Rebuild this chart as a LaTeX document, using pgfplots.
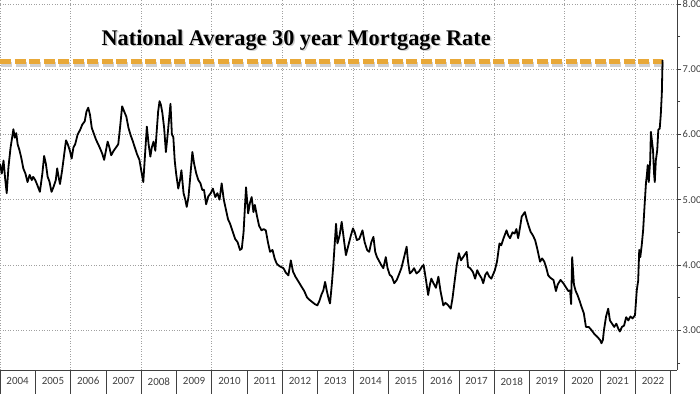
\documentclass[border=0pt]{standalone}
\usepackage{pgfplots}
\pgfplotsset{compat=1.18}
\usepackage{fontspec}
\setmainfont{Carlito}
\newfontfamily\titlefont{Liberation Serif}
\definecolor{dashorange}{HTML}{E8A838}
\definecolor{gridgray}{HTML}{A0A0A0}
\definecolor{axgray}{HTML}{404040}
\begin{document}
\begin{tikzpicture}
\begin{axis}[
  scale only axis, width=677pt, height=370pt,
  xmin=2004, xmax=2023.18, ymin=2.39, ymax=8.06,
  axis x line*=bottom, axis y line*=right,
  axis line style={axgray, line width=0.8pt},
  clip=false,
  tick align=outside,
  major tick length=4pt, minor tick length=3pt,
  xtick={2004.5,2005.5,2006.5,2007.5,2008.5,2009.5,2010.5,2011.5,2012.5,2013.5,2014.5,2015.5,2016.5,2017.5,2018.5,2019.5,2020.5,2021.5,2022.5},
  xticklabels={2004,2005,2006,2007,2008,2009,2010,2011,2012,2013,2014,2015,2016,2017,2018,2019,2020,2021,2022},
  major x tick style={draw=none},
  extra x ticks={2004,2006,2008,2010,2012,2014,2016,2018,2020,2022},
  extra x tick labels={},
  extra x tick style={grid=major, major x tick style={draw=none}},
  ytick={3,4,5,6,7,8},
  minor ytick={2.5,3.5,4.5,5.5,6.5,7.5},
  y tick style={axgray, line width=0.6pt},
  ymajorgrids=true,
  major grid style={gridgray, line width=0.6pt, dotted},
  yticklabel style={font=\fontsize{10.5}{12}\selectfont, text=axgray, inner sep=1.5pt},
  xticklabel style={font=\fontsize{11}{13}\selectfont, text=axgray},
  /pgf/number format/.cd, fixed, fixed zerofill, precision=2, assume math mode=true,
]
\addplot[black!18, line width=5pt, dash pattern=on 11pt off 3.5pt, forget plot] coordinates {(2004.03,7.07) (2022.81,7.07)};
\addplot[dashorange, line width=5pt, dash pattern=on 11pt off 3.5pt] coordinates {(2004,7.12) (2022.78,7.12)};
\addplot[black, line width=1.8pt, line join=round] coordinates {
(2004.00,5.55)(2004.05,5.40)(2004.10,5.60)(2004.15,5.30)(2004.19,5.10)(2004.24,5.50)(2004.30,5.80)(2004.38,6.08)(2004.42,5.95)(2004.46,6.02)
(2004.50,5.85)(2004.55,5.76)(2004.60,5.65)(2004.66,5.48)(2004.72,5.40)(2004.78,5.27)(2004.84,5.38)(2004.90,5.30)(2004.94,5.35)(2005.00,5.30)
(2005.06,5.22)(2005.13,5.12)(2005.20,5.40)(2005.25,5.67)(2005.30,5.55)(2005.35,5.35)(2005.40,5.28)(2005.46,5.12)(2005.52,5.20)(2005.58,5.30)
(2005.62,5.48)(2005.66,5.35)(2005.70,5.24)(2005.76,5.45)(2005.82,5.70)(2005.87,5.91)(2005.92,5.85)(2005.98,5.75)(2006.03,5.63)(2006.08,5.80)
(2006.13,5.85)(2006.20,6.00)(2006.27,6.07)(2006.33,6.15)(2006.40,6.20)(2006.45,6.35)(2006.50,6.41)(2006.55,6.30)(2006.60,6.10)(2006.66,6.01)
(2006.72,5.92)(2006.79,5.84)(2006.84,5.78)(2006.90,5.70)(2006.95,5.61)(2007.00,5.75)(2007.05,5.89)(2007.10,5.80)(2007.15,5.68)(2007.22,5.75)
(2007.30,5.81)(2007.35,5.85)(2007.40,6.10)(2007.46,6.43)(2007.52,6.35)(2007.58,6.27)(2007.64,6.10)(2007.70,5.99)(2007.76,5.90)(2007.82,5.80)
(2007.88,5.70)(2007.95,5.61)(2008.00,5.45)(2008.06,5.27)(2008.11,5.70)(2008.16,6.12)(2008.21,5.85)(2008.26,5.66)(2008.30,5.80)(2008.35,5.89)
(2008.40,5.75)(2008.44,6.05)(2008.48,6.35)(2008.52,6.51)(2008.56,6.45)(2008.60,6.33)(2008.65,6.10)(2008.70,5.73)(2008.75,6.00)(2008.80,6.30)
(2008.83,6.47)(2008.87,6.00)(2008.91,5.96)(2008.95,5.60)(2008.99,5.40)(2009.05,5.17)(2009.10,5.30)(2009.14,5.45)(2009.20,5.10)(2009.25,5.00)
(2009.29,4.89)(2009.34,5.04)(2009.39,5.35)(2009.45,5.73)(2009.50,5.55)(2009.56,5.40)(2009.62,5.30)(2009.68,5.25)(2009.73,5.15)(2009.78,5.15)
(2009.84,4.93)(2009.90,5.05)(2009.97,5.10)(2010.03,5.17)(2010.10,5.04)(2010.16,5.10)(2010.22,5.00)(2010.28,5.25)(2010.34,5.00)(2010.40,4.85)
(2010.46,4.70)(2010.52,4.63)(2010.60,4.50)(2010.66,4.40)(2010.73,4.35)(2010.80,4.23)(2010.85,4.25)(2010.90,4.50)(2010.97,5.19)(2011.03,4.79)
(2011.08,4.95)(2011.13,5.04)(2011.18,4.81)(2011.22,4.92)(2011.28,4.75)(2011.34,4.60)(2011.41,4.53)(2011.47,4.55)(2011.53,4.53)(2011.59,4.35)
(2011.65,4.20)(2011.72,4.23)(2011.78,4.10)(2011.84,4.02)(2011.92,3.98)(2012.03,3.95)(2012.10,3.88)(2012.17,3.84)(2012.24,4.07)(2012.30,3.90)
(2012.37,3.82)(2012.45,3.75)(2012.55,3.66)(2012.62,3.60)(2012.70,3.50)(2012.78,3.46)(2012.85,3.43)(2012.92,3.40)(2012.99,3.38)(2013.05,3.45)
(2013.11,3.55)(2013.16,3.61)(2013.21,3.74)(2013.26,3.60)(2013.31,3.48)(2013.35,3.41)(2013.40,3.70)(2013.44,3.97)(2013.48,4.30)(2013.52,4.63)
(2013.56,4.33)(2013.62,4.45)(2013.68,4.66)(2013.74,4.40)(2013.80,4.15)(2013.87,4.30)(2013.94,4.45)(2014.00,4.56)(2014.05,4.50)(2014.11,4.38)
(2014.18,4.40)(2014.27,4.53)(2014.33,4.35)(2014.40,4.23)(2014.46,4.20)(2014.52,4.35)(2014.58,4.43)(2014.63,4.20)(2014.68,4.12)(2014.75,4.05)
(2014.80,4.00)(2014.86,3.95)(2014.93,4.12)(2014.98,3.95)(2015.04,3.85)(2015.10,3.82)(2015.17,3.72)(2015.24,3.77)(2015.30,3.85)(2015.37,3.95)
(2015.44,4.10)(2015.52,4.28)(2015.56,4.05)(2015.61,3.87)(2015.67,3.90)(2015.73,3.95)(2015.80,3.87)(2015.87,3.90)(2015.95,3.97)(2016.00,4.00)
(2016.06,3.80)(2016.13,3.54)(2016.18,3.70)(2016.22,3.79)(2016.28,3.72)(2016.35,3.65)(2016.42,3.82)(2016.48,3.60)(2016.56,3.38)(2016.62,3.42)
(2016.70,3.38)(2016.77,3.33)(2016.82,3.49)(2016.88,3.75)(2016.94,4.00)(2017.00,4.18)(2017.06,4.07)(2017.12,4.12)(2017.22,4.20)(2017.26,3.97)
(2017.32,3.95)(2017.40,3.89)(2017.46,3.79)(2017.52,3.92)(2017.58,3.85)(2017.64,3.80)(2017.69,3.72)(2017.75,3.85)(2017.80,3.89)(2017.86,3.82)
(2017.92,3.79)(2018.02,3.92)(2018.08,4.05)(2018.15,4.33)(2018.20,4.30)(2018.26,4.40)(2018.35,4.53)(2018.40,4.45)(2018.45,4.41)(2018.52,4.50)
(2018.58,4.48)(2018.63,4.55)(2018.68,4.41)(2018.74,4.60)(2018.78,4.74)(2018.87,4.81)(2018.92,4.70)(2018.97,4.61)(2019.03,4.51)(2019.10,4.45)
(2019.16,4.38)(2019.22,4.25)(2019.30,4.05)(2019.36,4.10)(2019.42,4.05)(2019.48,3.95)(2019.53,3.84)(2019.60,3.80)(2019.68,3.77)(2019.75,3.60)
(2019.80,3.70)(2019.88,3.77)(2019.96,3.72)(2020.03,3.66)(2020.10,3.60)(2020.15,3.61)(2020.18,3.40)(2020.21,4.12)(2020.26,3.70)(2020.31,3.60)
(2020.36,3.54)(2020.42,3.45)(2020.48,3.35)(2020.54,3.26)(2020.60,3.05)(2020.68,3.05)(2020.76,3.00)(2020.84,2.94)(2020.92,2.90)(2021.00,2.85)
(2021.04,2.80)(2021.08,2.85)(2021.11,3.00)(2021.17,3.21)(2021.23,3.33)(2021.28,3.15)(2021.34,3.10)(2021.40,3.05)(2021.46,3.10)(2021.52,3.02)
(2021.56,2.98)(2021.62,3.05)(2021.68,3.07)(2021.74,3.20)(2021.80,3.15)(2021.86,3.21)(2021.92,3.18)(2021.99,3.23)(2022.04,3.61)(2022.08,3.76)
(2022.11,4.23)(2022.14,4.12)(2022.18,4.30)(2022.22,4.53)(2022.26,4.90)(2022.30,5.25)(2022.33,5.40)(2022.35,5.53)(2022.38,5.27)(2022.42,5.60)
(2022.44,6.04)(2022.47,5.90)(2022.50,5.76)(2022.53,5.40)(2022.55,5.27)(2022.58,5.60)(2022.62,5.76)(2022.65,6.07)(2022.69,6.09)(2022.72,6.30)
(2022.75,6.63)(2022.77,7.14)
};
\node[anchor=base, text=black!20, font=\titlefont\bfseries\fontsize{22.3}{26}\selectfont] at ([xshift=1.5pt,yshift=-1.5pt]axis cs:2012.39,7.37) {National Average 30 year Mortgage Rate};
\node[anchor=base, font=\titlefont\bfseries\fontsize{22.3}{26}\selectfont] at (axis cs:2012.39,7.37) {National Average 30 year Mortgage Rate};
\pgfplotsinvokeforeach{2004,2005,2006,2007,2008,2009,2010,2011,2012,2013,2014,2015,2016,2017,2018,2019,2020,2021,2022,2023}{
  \draw[axgray, line width=0.6pt] (axis cs:#1,2.39) -- ([yshift=-24pt]axis cs:#1,2.39);
}
\end{axis}
\pgfresetboundingbox
\path[use as bounding box] ([yshift=-24pt]current axis.south west) rectangle ([xshift=23pt]current axis.north east);
\end{tikzpicture}
\end{document}
